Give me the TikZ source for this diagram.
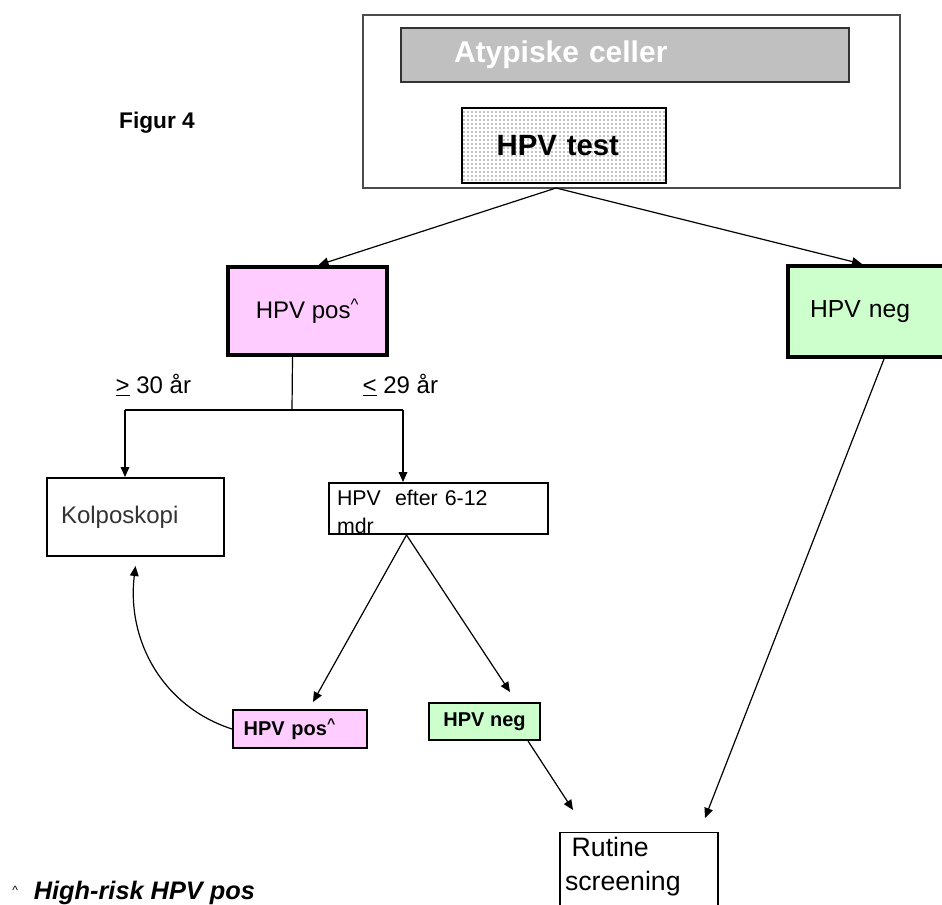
\documentclass[tikz,border=0pt]{standalone}
\usepackage{fontspec}
\setmainfont{Liberation Sans}
\usetikzlibrary{arrows.meta,calc,positioning,patterns}

\definecolor{pospink}{HTML}{FFCCFF}
\definecolor{neggreen}{HTML}{CCFFCC}
\definecolor{cellgray}{HTML}{C0C0C0}

\newcommand{\fsz}[2]{\fontsize{#1}{#2}\selectfont}

\begin{document}
\begin{tikzpicture}[
    x=0.75pt, y=-0.75pt,
    box/.style={draw, line width=1.5pt, inner sep=0pt},
    thickbox/.style={draw, line width=3pt, inner sep=0pt},
    arr/.style={-{Triangle[length=7.5pt,width=6.5pt]}, line width=0.9pt},
    ln/.style={line width=0.9pt},
  ]
    \useasboundingbox (0,0) rectangle (942,904);

    % Top block
    \node[draw=black!70, line width=1pt, minimum width=402.75pt, minimum height=129.75pt] (frame) at (631.5,101.5) {};
    \node[draw=black!80, line width=1pt, fill=cellgray, inner xsep=39.75pt, inner ysep=0pt, text width=256.5pt, minimum height=40.5pt, align=left, font=\fsz{22.5}{26}\bfseries, text=white] (atyp) at (625,55) {Atypiske celler};
    \node[box, line width=1pt, fill=white, postaction={pattern=dots, pattern color=black}, inner xsep=26pt, inner ysep=0pt, text width=101pt, minimum height=56.25pt, align=left, font=\fsz{22}{26}\bfseries] (test) at (564,145.5) {HPV test};
    \node[font=\fsz{17}{20}\bfseries] (fig) at (157,123) {Figur 4};
    \coordinate (fork) at (556,188);

    % Test result
    \node[thickbox, fill=pospink, minimum width=119.25pt, minimum height=66pt, font=\fsz{18}{21}] (pos) at (307.5,311) {HPV pos\textsuperscript{\textasciicircum}};
    \node[thickbox, fill=neggreen, minimum height=68.25pt, inner xsep=16.5pt, text width=87pt, align=left, font=\fsz{18.5}{21}] (neg) at (868,311.5) {HPV neg};

    % Age split
    \coordinate (stem) at ($(pos.south)+(-15,0)$);
    \coordinate (split) at (292,410);
    \coordinate (lft) at (125,410);
    \coordinate (rgt) at (403,410);
    \node[font=\fsz{18}{21}, anchor=west] (old) at (111,385) {\underline{>} 30 år};
    \node[font=\fsz{18}{21}, anchor=west] (young) at (358,385) {\underline{<} 29 år};

    % Follow-up
    \node[box, inner xsep=10.5pt, text width=111.75pt, minimum height=58.5pt, align=left, font=\fsz{18}{21}, text=black!80] (kolpo) at (135.5,517) {Kolposkopi};
    \node[box, anchor=north west, inner xsep=6pt, inner ysep=0pt, text width=152.25pt, text height=16.5pt, text depth=21.75pt, align=left, font=\fsz{16}{21}] (efter) at (328,482) {HPV\ \ efter 6-12\\mdr};
    \node[box, fill=pospink, inner xsep=8pt, text width=84.5pt, minimum height=28.5pt, align=left, font=\fsz{15}{17}\bfseries] (spos) at (300,729) {HPV pos\textsuperscript{\textasciicircum}};
    \node[box, fill=neggreen, minimum width=83.25pt, minimum height=27.75pt, font=\fsz{15}{17}\bfseries] (sneg) at (484.5,721.5) {HPV neg};
    \node[box, line width=1pt, anchor=north, inner xsep=3.75pt, inner ysep=0pt, text width=111pt, text height=18pt, text depth=55.5pt, align=left, font=\fsz{20}{25}] (rut) at (639,832) {\hspace*{5pt}Rutine\\screening};

    % Footnote
    \node[anchor=west, inner sep=0pt, font=\fsz{19}{22}\bfseries\itshape] (note) at (12,893) {\raisebox{4pt}{\normalfont\fsz{9}{9}\textasciicircum}\hspace{12pt}High-risk HPV pos};

    % Arrows
    \draw[arr] (fork) -- ($(pos.north)+(11,0)$);
    \draw[arr] (fork) -- ($(neg.north)+(-6,0)$);
    \draw[ln] (stem) -- (split);
    \draw[ln] (lft) -- (rgt);
    \draw[arr] (lft) -- (lft |- kolpo.north);
    \draw[arr] (rgt) -- (rgt |- efter.north);
    \draw[arr] ($(efter.south)+(-32,0)$) -- ($(spos.north)+(13,-7)$);
    \draw[arr] ($(efter.south)+(-32,0)$) -- ($(sneg.north)+(25.5,-10)$);
    \draw[arr] (spos.west) to[out=162, in=-97] ($(kolpo.south)+(0,9)$);
    \draw[arr] ($(sneg.south)+(43.5,0)$) -- ($(rut.north)+(-66,-22)$);
    \draw[arr] ($(neg.south)+(16,0)$) -- ($(rut.north)+(66,-14)$);
\end{tikzpicture}
\end{document}
